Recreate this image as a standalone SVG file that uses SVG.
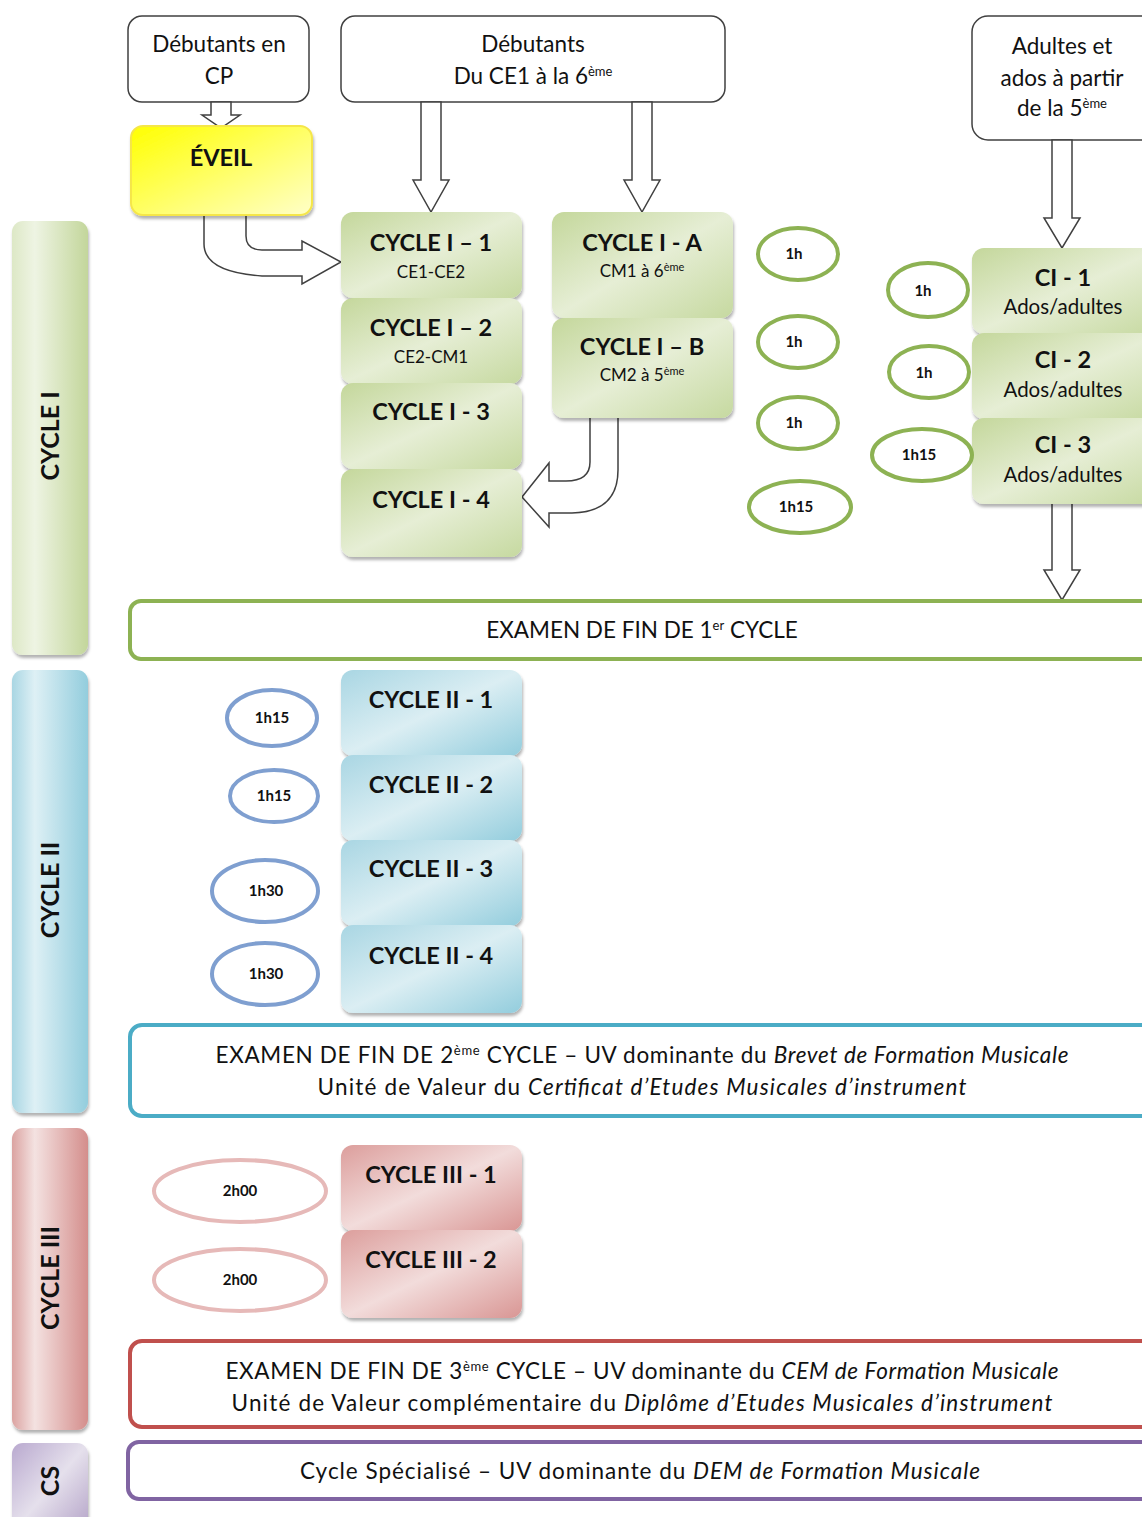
<svg xmlns="http://www.w3.org/2000/svg" width="1142" height="1517" viewBox="0 0 1142 1517">
<defs>
<linearGradient id="gG" x1="0" y1="0" x2="1" y2="1"><stop offset="0" stop-color="#c4d79b"/><stop offset="0.5" stop-color="#e6eed5"/><stop offset="1" stop-color="#c6d9a0"/></linearGradient>
<linearGradient id="gB" x1="0" y1="0" x2="1" y2="1"><stop offset="0" stop-color="#a9d6e3"/><stop offset="0.5" stop-color="#dbeef3"/><stop offset="1" stop-color="#93cddd"/></linearGradient>
<linearGradient id="gR" x1="0" y1="0" x2="1" y2="1"><stop offset="0" stop-color="#dc9e9c"/><stop offset="0.5" stop-color="#f2dcdb"/><stop offset="1" stop-color="#d99694"/></linearGradient>
<linearGradient id="gY" x1="0" y1="0" x2="1" y2="1"><stop offset="0" stop-color="#ffff00"/><stop offset="1" stop-color="#ffffc8"/></linearGradient>
<linearGradient id="vG" x1="0" y1="0" x2="1" y2="0"><stop offset="0" stop-color="#dde8c6"/><stop offset="0.3" stop-color="#eef4e3"/><stop offset="1" stop-color="#c3d69b"/></linearGradient>
<linearGradient id="vB" x1="0" y1="0" x2="1" y2="0"><stop offset="0" stop-color="#a9d6e3"/><stop offset="0.3" stop-color="#def0f5"/><stop offset="1" stop-color="#93cddd"/></linearGradient>
<linearGradient id="vR" x1="0" y1="0" x2="1" y2="0"><stop offset="0" stop-color="#dba3a1"/><stop offset="0.3" stop-color="#f4e2e1"/><stop offset="1" stop-color="#d48e8c"/></linearGradient>
<linearGradient id="vP" x1="0" y1="0" x2="1" y2="1"><stop offset="0" stop-color="#b9a9cf"/><stop offset="0.5" stop-color="#e5e0ec"/><stop offset="1" stop-color="#b3a2c7"/></linearGradient>
<filter id="sh" x="-10%" y="-10%" width="125%" height="130%"><feDropShadow dx="1" dy="3" stdDeviation="1.5" flood-color="#000" flood-opacity="0.3"/></filter>
<style>
text{font-family:Lato,"Liberation Sans",sans-serif;fill:#111}
.t{font-size:22.5px;text-anchor:middle}
.n{font-size:23.5px;font-weight:bold;text-anchor:middle}
.s{font-size:17px;text-anchor:middle}
.a{font-size:20.5px;text-anchor:middle}
.o{font-size:15px;font-weight:bold;text-anchor:middle}
.e{font-size:22.5px;text-anchor:middle}
.v{font-size:25px;font-weight:bold;text-anchor:middle}
.box{fill:#fff;stroke:#404040;stroke-width:1.5}
.ar{fill:#fff;stroke:#404040;stroke-width:1.5;stroke-linejoin:miter}
.og{fill:none;stroke:#8db253;stroke-width:4}
.ob{fill:none;stroke:#7f9fd0;stroke-width:4}
.or{fill:none;stroke:#e6b9b8;stroke-width:4}
</style>
</defs>

<!-- left bars -->
<g id="bar-cycle1"><rect x="12" y="221" width="76" height="434" rx="11" fill="url(#vG)" filter="url(#sh)"/><text class="v" transform="translate(59,436) rotate(-90)">CYCLE I</text></g>
<g id="bar-cycle2"><rect x="12" y="670" width="76" height="443" rx="11" fill="url(#vB)" filter="url(#sh)"/><text class="v" transform="translate(59,890) rotate(-90)">CYCLE II</text></g>
<g id="bar-cycle3"><rect x="12" y="1128" width="76" height="302" rx="11" fill="url(#vR)" filter="url(#sh)"/><text class="v" transform="translate(59,1278) rotate(-90)">CYCLE III</text></g>
<g id="bar-cs"><rect x="12" y="1443" width="76" height="90" rx="11" fill="url(#vP)" filter="url(#sh)"/><text class="v" transform="translate(59,1481) rotate(-90)">CS</text></g>

<!-- top boxes -->
<g id="debutants-cp"><rect class="box" x="128" y="16" width="181" height="86" rx="14"/><text class="t" x="219" y="52">Débutants en</text><text class="t" x="219" y="84">CP</text></g>
<g id="debutants-ce1"><rect class="box" x="341" y="16" width="384" height="86" rx="14"/><text class="t" x="533" y="52">Débutants</text><text class="t" x="533" y="84">Du CE1 à la 6<tspan dy="-8" font-size="13">ème</tspan></text></g>
<g id="adultes"><rect class="box" x="972" y="16" width="190" height="124" rx="16"/><text class="t" x="1062" y="54">Adultes et</text><text class="t" x="1062" y="86">ados à partir</text><text class="t" x="1062" y="116">de la 5<tspan dy="-8" font-size="13">ème</tspan></text></g>

<!-- connectors -->
<g id="connectors">
<polygon class="ar" points="211,102 231,102 231,115 240,115 221,128 202,115 211,115"/>
<polygon class="ar" points="421,102 441,102 441,180 449,180 431,212 413,180 421,180"/>
<polygon class="ar" points="632,102 652,102 652,180 660,180 642,212 624,180 632,180"/>
<polygon class="ar" points="1052,140 1072,140 1072,218 1080,218 1062,248 1044,218 1052,218"/>
<polygon class="ar" points="1052,503 1072,503 1072,570 1080,570 1062,600 1044,570 1052,570"/>
<path class="ar" d="M204,214 L204,244 Q204,272 262,276 L302,276 L302,284 L341,262 L302,241 L302,250 L262,250 Q246,250 246,236 L246,214"/>
<path class="ar" d="M590,418 L590,462 Q590,481 566,481 L549,481 L549,463 L522,497 L549,527 L549,513 L572,513 Q618,512 618,470 L618,418"/>
</g>

<!-- eveil -->
<g id="eveil"><rect x="131" y="126" width="181" height="89" rx="12" fill="url(#gY)" stroke="#f5e64a" stroke-width="2" filter="url(#sh)"/><text class="n" x="221" y="166" font-size="24px">ÉVEIL</text></g>

<!-- cycle I nodes -->
<g id="c1-1"><rect x="341" y="212" width="181" height="86" rx="12" fill="url(#gG)" filter="url(#sh)"/><text class="n" x="431" y="251">CYCLE I – 1</text><text class="s" x="431" y="278">CE1-CE2</text></g>
<g id="c1-2"><rect x="341" y="298" width="181" height="86" rx="12" fill="url(#gG)" filter="url(#sh)"/><text class="n" x="431" y="336">CYCLE I – 2</text><text class="s" x="431" y="363">CE2-CM1</text></g>
<g id="c1-3"><rect x="341" y="383" width="181" height="86" rx="12" fill="url(#gG)" filter="url(#sh)"/><text class="n" x="431" y="420">CYCLE I - 3</text></g>
<g id="c1-4"><rect x="341" y="469" width="181" height="88" rx="12" fill="url(#gG)" filter="url(#sh)"/><text class="n" x="431" y="508">CYCLE I - 4</text></g>
<g id="c1-a"><rect x="552" y="212" width="181" height="106" rx="12" fill="url(#gG)" filter="url(#sh)"/><text class="n" x="642" y="251">CYCLE I - A</text><text class="s" x="642" y="277" font-size="18.5px">CM1 à 6<tspan dy="-6" font-size="11">ème</tspan></text></g>
<g id="c1-b"><rect x="552" y="318" width="181" height="100" rx="12" fill="url(#gG)" filter="url(#sh)"/><text class="n" x="642" y="355">CYCLE I – B</text><text class="s" x="642" y="381" font-size="18.5px">CM2 à 5<tspan dy="-6" font-size="11">ème</tspan></text></g>

<!-- CI adults -->
<g id="ci-1"><rect x="972" y="248" width="190" height="86" rx="12" fill="url(#gG)" filter="url(#sh)"/><text class="n" x="1063" y="286">CI - 1</text><text class="a" x="1063" y="314">Ados/adultes</text></g>
<g id="ci-2"><rect x="972" y="333" width="190" height="86" rx="12" fill="url(#gG)" filter="url(#sh)"/><text class="n" x="1063" y="368">CI - 2</text><text class="a" x="1063" y="397">Ados/adultes</text></g>
<g id="ci-3"><rect x="972" y="418" width="190" height="86" rx="12" fill="url(#gG)" filter="url(#sh)"/><text class="n" x="1063" y="453">CI - 3</text><text class="a" x="1063" y="482">Ados/adultes</text></g>

<!-- green ovals -->
<g id="ov-1a"><ellipse class="og" cx="798" cy="254" rx="40" ry="26"/><text class="o" x="794" y="259">1h</text></g>
<g id="ov-1b"><ellipse class="og" cx="798" cy="342" rx="40" ry="26"/><text class="o" x="794" y="347">1h</text></g>
<g id="ov-1c"><ellipse class="og" cx="798" cy="423" rx="40" ry="26"/><text class="o" x="794" y="428">1h</text></g>
<g id="ov-1d"><ellipse class="og" cx="800" cy="507" rx="51" ry="26"/><text class="o" x="796" y="512">1h15</text></g>
<g id="ov-ci1"><ellipse class="og" cx="928" cy="290" rx="40" ry="27"/><text class="o" x="923" y="296">1h</text></g>
<g id="ov-ci2"><ellipse class="og" cx="929" cy="372" rx="40" ry="26"/><text class="o" x="924" y="378">1h</text></g>
<g id="ov-ci3"><ellipse class="og" cx="922" cy="455" rx="50" ry="26"/><text class="o" x="919" y="460">1h15</text></g>

<!-- exam 1 -->
<g id="exam-1"><rect x="130" y="601" width="1040" height="58" rx="11" fill="#fff" stroke="#8db253" stroke-width="4"/><text class="e" x="642" y="638">EXAMEN DE FIN DE 1<tspan dy="-8" font-size="13">er</tspan><tspan dy="8"> CYCLE</tspan></text></g>

<!-- cycle II nodes -->
<g id="c2-1"><rect x="341" y="670" width="181" height="86" rx="12" fill="url(#gB)" filter="url(#sh)"/><text class="n" x="431" y="708">CYCLE II - 1</text></g>
<g id="c2-2"><rect x="341" y="755" width="181" height="86" rx="12" fill="url(#gB)" filter="url(#sh)"/><text class="n" x="431" y="793">CYCLE II - 2</text></g>
<g id="c2-3"><rect x="341" y="840" width="181" height="86" rx="12" fill="url(#gB)" filter="url(#sh)"/><text class="n" x="431" y="877">CYCLE II - 3</text></g>
<g id="c2-4"><rect x="341" y="925" width="181" height="88" rx="12" fill="url(#gB)" filter="url(#sh)"/><text class="n" x="431" y="964">CYCLE II - 4</text></g>

<g id="ov-2a"><ellipse class="ob" cx="272" cy="718" rx="45" ry="28"/><text class="o" x="272" y="723">1h15</text></g>
<g id="ov-2b"><ellipse class="ob" cx="274" cy="796" rx="44" ry="26"/><text class="o" x="274" y="801">1h15</text></g>
<g id="ov-2c"><ellipse class="ob" cx="265" cy="891" rx="53" ry="31"/><text class="o" x="266" y="896">1h30</text></g>
<g id="ov-2d"><ellipse class="ob" cx="265" cy="974" rx="53" ry="31"/><text class="o" x="266" y="979">1h30</text></g>

<!-- exam 2 -->
<g id="exam-2"><rect x="130" y="1025" width="1040" height="91" rx="12" fill="#fff" stroke="#4bacc6" stroke-width="4"/>
<text class="e" x="642" y="1063" textLength="853">EXAMEN DE FIN DE 2<tspan dy="-8" font-size="13">ème</tspan><tspan dy="8"> CYCLE – UV dominante du </tspan><tspan font-style="italic">Brevet de Formation Musicale</tspan></text>
<text class="e" x="642" y="1095" textLength="649">Unité de Valeur du <tspan font-style="italic">Certificat d’Etudes Musicales d’instrument</tspan></text></g>

<!-- cycle III nodes -->
<g id="c3-1"><rect x="341" y="1145" width="181" height="86" rx="12" fill="url(#gR)" filter="url(#sh)"/><text class="n" x="431" y="1183">CYCLE III - 1</text></g>
<g id="c3-2"><rect x="341" y="1230" width="181" height="88" rx="12" fill="url(#gR)" filter="url(#sh)"/><text class="n" x="431" y="1268">CYCLE III - 2</text></g>

<g id="ov-3a"><ellipse class="or" cx="240" cy="1191" rx="86" ry="31"/><text class="o" x="240" y="1196">2h00</text></g>
<g id="ov-3b"><ellipse class="or" cx="240" cy="1280" rx="86" ry="31"/><text class="o" x="240" y="1285">2h00</text></g>

<!-- exam 3 -->
<g id="exam-3"><rect x="130" y="1341" width="1040" height="86" rx="12" fill="#fff" stroke="#c0504d" stroke-width="4"/>
<text class="e" x="642" y="1379" textLength="833">EXAMEN DE FIN DE 3<tspan dy="-8" font-size="13">ème</tspan><tspan dy="8"> CYCLE – UV dominante du </tspan><tspan font-style="italic">CEM de Formation Musicale</tspan></text>
<text class="e" x="642" y="1411" textLength="821">Unité de Valeur complémentaire du <tspan font-style="italic">Diplôme d’Etudes Musicales d’instrument</tspan></text></g>

<!-- CS -->
<g id="cs"><rect x="128" y="1442" width="1040" height="57" rx="11" fill="#fff" stroke="#8064a2" stroke-width="4"/>
<text class="e" x="640" y="1479" textLength="680">Cycle Spécialisé – UV dominante du <tspan font-style="italic">DEM de Formation Musicale</tspan></text></g>
</svg>
